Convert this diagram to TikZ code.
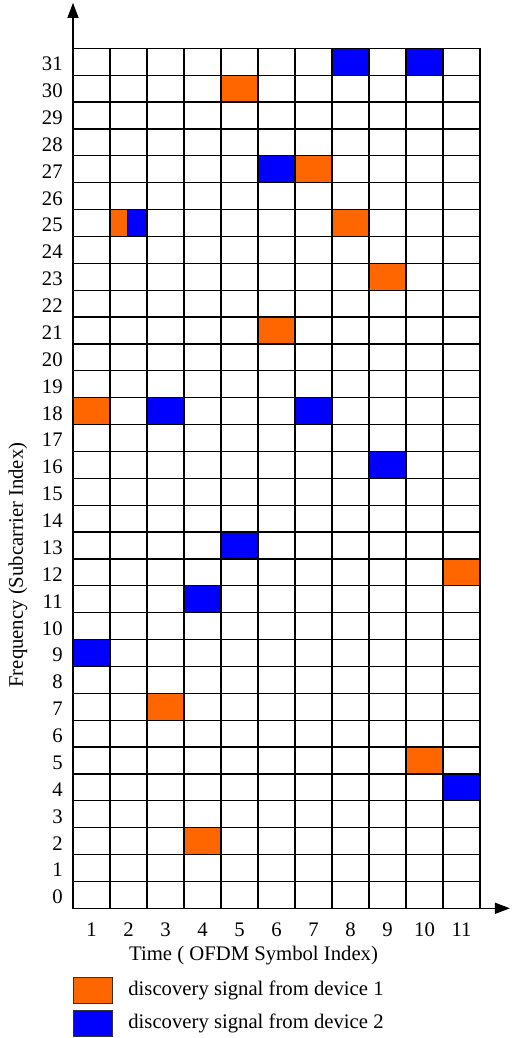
\documentclass[tikz,border=0pt]{standalone}
\usepackage{fontspec}
\setmainfont{Liberation Serif}
\usepackage{xcolor}
\usetikzlibrary{arrows.meta,positioning,calc}
\definecolor{devone}{HTML}{FF6600}
\definecolor{devtwo}{HTML}{0000FF}

\begin{document}
\begin{tikzpicture}[
		x=18.5pt,
		y=13.4375pt,
		>=Latex,
		line cap=rect,
		font=\fontsize{10.35}{12}\selectfont,
		gridline/.style={line width=0.65pt,black},
		axis/.style={line width=0.6pt,-{Triangle[length=7.5pt,width=5.5pt]}},
		sig1/.style={fill=devone,draw=black!80,line width=0.5pt},
		sig2/.style={fill=devtwo,draw=black!80,line width=0.5pt},
		rowlabel/.style={anchor=east,inner sep=0pt},
		collabel/.style={inner sep=0pt},
		legbox/.style={draw=black!80,line width=0.6pt,minimum width=19.5pt,minimum height=13pt,inner sep=0pt},
		legtext/.style={anchor=west,inner sep=0pt}
	]
	
	% Page frame
	\useasboundingbox (-1.973,-4.826) rectangle (11.838,33.797);
	
	% Axis end points
	\coordinate (origin) at (0,0);
	\coordinate (ytip)   at (0,33.69);
	\coordinate (xtip)   at (11.81,0);
	
	% Discovery signals from device 1
	\foreach \c/\r in {5/30, 7/27, 8/25, 9/23, 6/21, 1/18, 11/12, 3/7, 10/5, 4/2}
	\fill[devone] (\c-1,\r) rectangle ++(1,1);
	
	% Discovery signals from device 2
	\foreach \c/\r in {8/31, 10/31, 6/27, 3/18, 7/18, 9/16, 5/13, 4/11, 1/9, 11/4}
	\fill[devtwo] (\c-1,\r) rectangle ++(1,1);
	
	% Shared slot (both devices)
	\fill[devone] (1,25) rectangle (1.46,26);
	\fill[devtwo] (1.46,25) rectangle (2,26);
	\draw[line width=0.5pt] (1.46,25) -- (1.46,26);
	
	% Resource grid
	\foreach \c in {0,...,11}
	\draw[gridline] (\c,0) -- (\c,32);
	\foreach \r in {0,...,32}
	\draw[gridline] (0,\r) -- (11,\r);
	
	% Axes
	\draw[axis] (origin) -- (ytip);
	\draw[axis] (origin) -- (xtip);
	
	% Subcarrier numbers
	\foreach \r in {0,...,31}
	\node[rowlabel] (row\r) at (-0.27,\r+0.42) {\r};
	
	% Symbol numbers
	\foreach \c in {1,...,11}
	\node[collabel] (col\c) at (\c-0.5,-0.81) {\c};
	
	% Axis titles
	\node[inner sep=0pt] (xtitle) at (4.88,-1.74) {Time ( OFDM Symbol Index)};
	\node[inner sep=0pt,rotate=90] (ytitle) at (-1.486,12.77) {Frequency (Subcarrier Index)};
	
	% Legend
	\node[legbox,fill=devone,anchor=north west] (key1) at (0,-2.556) {};
	\node[legbox,fill=devtwo,anchor=north west] (key2) at (0,-3.784) {};
	\node[legtext] (keytext1) at (1.486,-3.04) {discovery signal from device 1};
	\node[legtext] (keytext2) at (1.486,-4.27) {discovery signal from device 2};
	
\end{tikzpicture}
\end{document}
